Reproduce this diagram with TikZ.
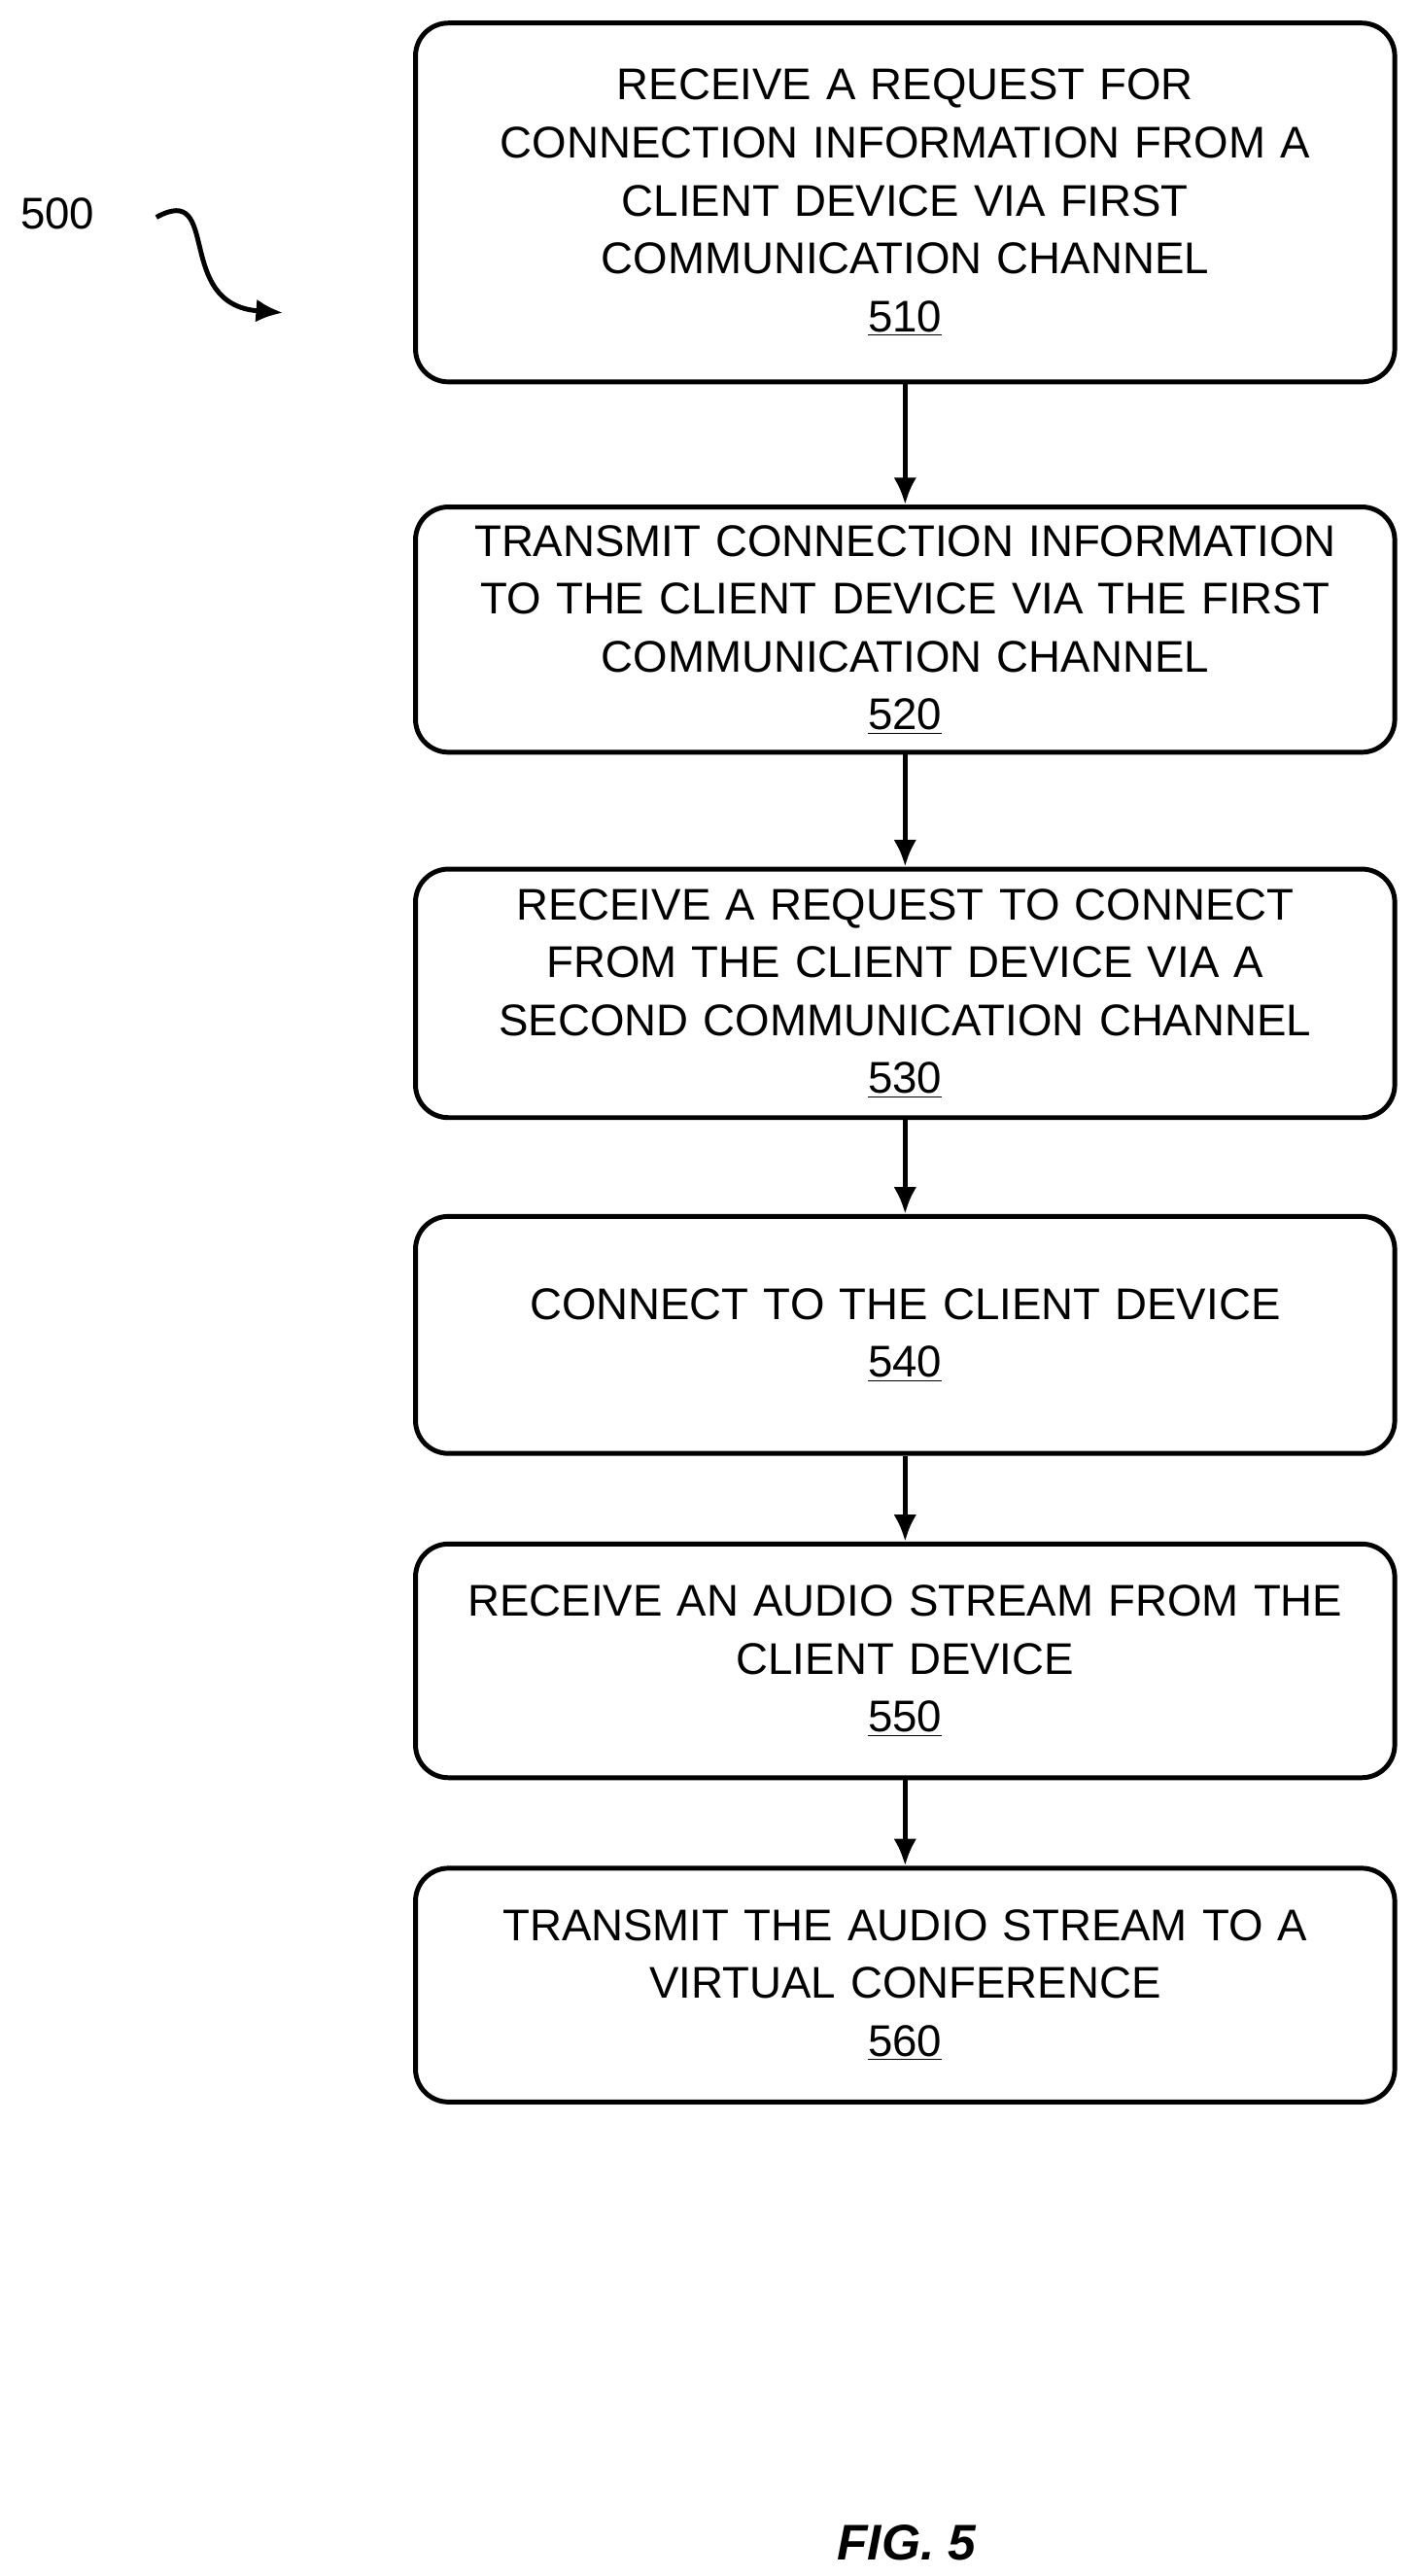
\documentclass[tikz,border=0pt]{standalone}
\usepackage{fontspec}
\setmainfont{Liberation Sans}
\usetikzlibrary{arrows.meta, positioning}
\begin{document}
\begin{tikzpicture}[x=0.03cm, y=-0.03cm, >={Latex[length=14pt,width=12pt]},
  font=\fontsize{23}{30}\selectfont,
  stage/.style={draw, line width=2.5pt, rounded corners=0.6cm, minimum width=17.85cm,
    text width=17.6cm, align=center, inner sep=2pt},
  link/.style={->, line width=2.5pt}]
\useasboundingbox (0,0) rectangle (861,1565);

\node[stage, minimum height=6.54cm] (box510) at (550,123) {RECEIVE A REQUEST FOR\\CONNECTION INFORMATION FROM A\\CLIENT DEVICE VIA FIRST\\COMMUNICATION CHANNEL\\\underline{510}};
\node[stage, minimum height=4.47cm] (box520) at (550,382.5) {TRANSMIT CONNECTION INFORMATION\\TO THE CLIENT DEVICE VIA THE FIRST\\COMMUNICATION CHANNEL\\\underline{520}};
\node[stage, minimum height=4.53cm] (box530) at (550,603.5) {RECEIVE A REQUEST TO CONNECT\\FROM THE CLIENT DEVICE VIA A\\SECOND COMMUNICATION CHANNEL\\\underline{530}};
\node[stage, minimum height=4.32cm] (box540) at (550,811) {CONNECT TO THE CLIENT DEVICE\\\underline{540}};
\node[stage, minimum height=4.26cm] (box550) at (550,1009) {RECEIVE AN AUDIO STREAM FROM THE\\CLIENT DEVICE\\\underline{550}};
\node[stage, minimum height=4.26cm] (box560) at (550,1206) {TRANSMIT THE AUDIO STREAM TO A\\VIRTUAL CONFERENCE\\\underline{560}};

\draw[link] (box510) -- (box520);
\draw[link] (box520) -- (box530);
\draw[link] (box530) -- (box540);
\draw[link] (box540) -- (box550);
\draw[link] (box550) -- (box560);

% figure number and label
\node (lbl500) at (35,130) {500};
\coordinate (tail500) at (95,132);
\coordinate (head500) at (172,190);
\draw[link] (tail500) .. controls (135,110) and (105,185) .. (head500);

\node[font=\fontsize{26}{30}\selectfont\bfseries\itshape] (fig) at (551,1545) {FIG. 5};
\end{tikzpicture}
\end{document}
